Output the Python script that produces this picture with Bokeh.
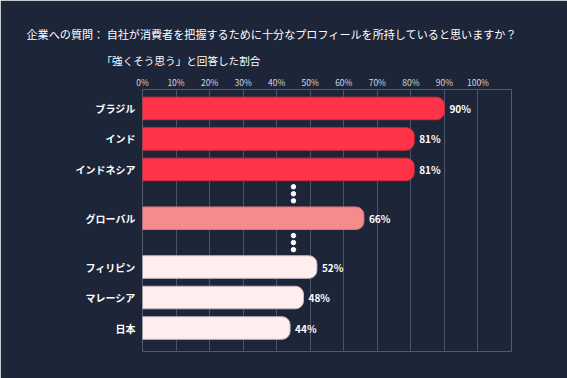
from bokeh.plotting import figure
from bokeh.models import Range1d, FixedTicker, ColumnDataSource, Title
from bokeh.core.properties import value
from bokeh.embed import file_html
from bokeh.resources import INLINE

# ---- data ----
categories = ["ブラジル", "インド", "インドネシア", "グローバル", "フィリピン", "マレーシア", "日本"]
values = [90, 81, 81, 66, 52, 48, 44]
groups = ["top", "top", "top", "global", "bottom", "bottom", "bottom"]
x_ticks = [0, 10, 20, 30, 40, 50, 60, 70, 80, 90, 100]
title_text = "企業への質問： 自社が消費者を把握するために十分なプロフィールを所持していると思いますか？"
subtitle_text = "「強くそう思う」と回答した割合"

# ---- layout helpers (row spacing, gaps between groups) ----
row_step = [0, 10, 10, 16, 16, 10, 10]
positions = []
acc = 0
for s in row_step:
    acc += s
    positions.append(acc)

fill_map = {"top": "#FF3448", "global": "#F58B8B", "bottom": "#FFEEEE"}
line_map = {"top": "#D22A3C", "global": "#D87676", "bottom": "#C8B6BE"}

src = ColumnDataSource(dict(
    y=positions,
    right=values,
    fill=[fill_map[g] for g in groups],
    line=[line_map[g] for g in groups],
    lab=[f"{v}%" for v in values],
))

BG = "#1D2539"
FONT = "Noto Sans CJK JP"

p = figure(
    frame_width=369, frame_height=262,
    x_range=Range1d(0, 110), y_range=Range1d(79.7, -6.2),
    x_axis_location="above",
    output_backend="svg", toolbar_location=None,
    min_border_left=142, min_border_right=56, min_border_top=89, min_border_bottom=27,
    background_fill_color=BG, border_fill_color=BG,
)
p.outline_line_color = None

p.hbar(y="y", left=0, right="right", height=7.4, source=src,
       fill_color="fill", line_color="line", line_width=1,
       border_radius=(0, 8, 8, 0))

p.text(x="right", y="y", text="lab", source=src, x_offset=5,
       text_baseline="middle", text_align="left", text_color="#FFFFFF",
       text_font=value(FONT), text_font_style="bold", text_font_size="10px")

# ellipsis dots between groups
dot_x = []
dot_y = []
for i in range(1, len(positions)):
    if groups[i] != groups[i - 1]:
        mid = (positions[i] + positions[i - 1]) / 2
        for d in (-2.3, 0, 2.3):
            dot_x.append(45)
            dot_y.append(mid + d)
p.scatter(dot_x, dot_y, size=4.5, color="#FFFFFF")

# x axis (top)
xa = p.xaxis[0]
xa.ticker = FixedTicker(ticks=x_ticks)
xa.major_label_overrides = {t: f"{t}%" for t in x_ticks}
xa.axis_line_color = None
xa.major_tick_line_color = None
xa.minor_tick_line_color = None
xa.major_tick_out = 0
xa.major_label_standoff = 2
xa.major_label_text_font = FONT
xa.major_label_text_font_size = "8.5px"
xa.major_label_text_color = "#D5D8DE"

# y axis (categories)
ya = p.yaxis[0]
ya.ticker = FixedTicker(ticks=positions)
ya.major_label_overrides = {pos: c for pos, c in zip(positions, categories)}
ya.axis_line_color = None
ya.major_tick_line_color = None
ya.minor_tick_line_color = None
ya.major_tick_out = 0
ya.major_label_standoff = 7
ya.major_label_text_font = FONT
ya.major_label_text_font_style = "bold"
ya.major_label_text_font_size = "10px"
ya.major_label_text_color = "#FFFFFF"

p.xgrid.grid_line_color = "#4B5468"
p.xgrid.grid_line_width = 1
p.ygrid.grid_line_color = None

p.add_layout(Title(text=subtitle_text, align="left", offset=-41,
                   text_font=FONT, text_font_size="10.6px", text_font_style="normal",
                   text_color="#FFFFFF", standoff=9), "above")
p.add_layout(Title(text=title_text, align="left", offset=-116,
                   text_font=FONT, text_font_size="11.1px", text_font_style="normal",
                   text_color="#FFFFFF", standoff=10), "above")

open("out.html", "w").write(file_html(p, INLINE))
